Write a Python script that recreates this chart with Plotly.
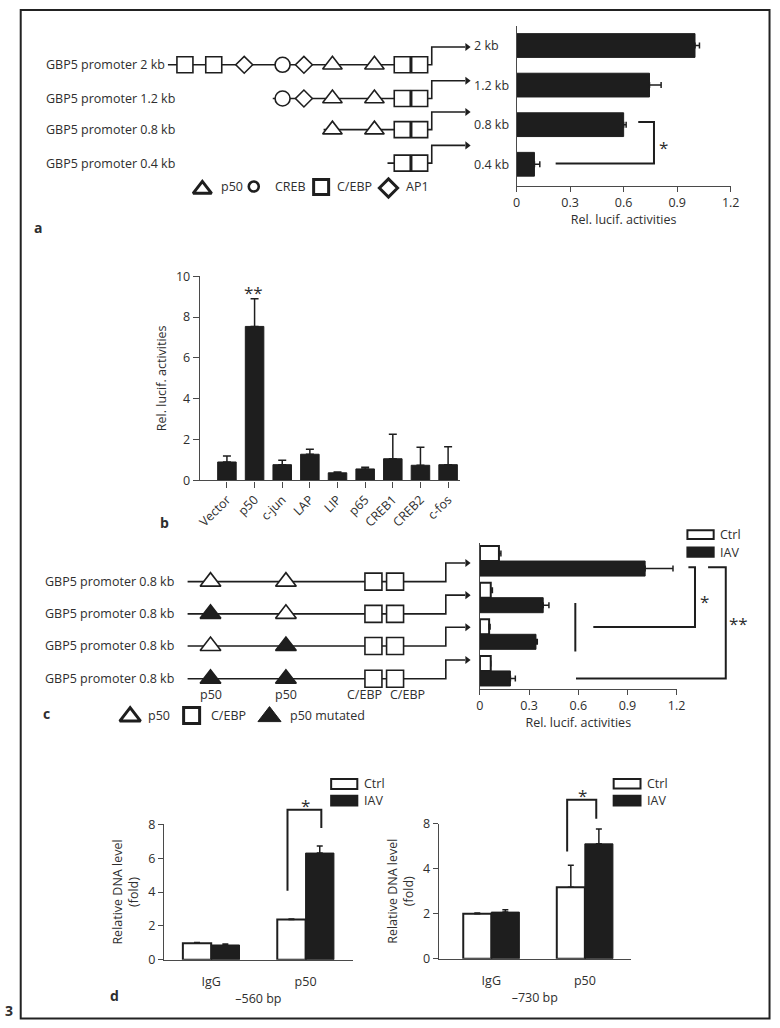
import plotly.graph_objects as go

W, H = 780, 1028
FONT = "Open Sans, Noto Sans, DejaVu Sans, sans-serif"
FS = 12.5
TXT = "#2e2e2e"
INK = "#1e1e1e"
AXC = "#4a4a4a"

# ---------------- data ----------------
# panel a: deletion constructs
a_constructs = ["2 kb", "1.2 kb", "0.8 kb", "0.4 kb"]
a_rel_lucif = [1.00, 0.745, 0.60, 0.10]
a_rel_lucif_err = [0.025, 0.065, 0.014, 0.03]
a_promoter_labels = ["GBP5 promoter 2 kb", "GBP5 promoter 1.2 kb",
                     "GBP5 promoter 0.8 kb", "GBP5 promoter 0.4 kb"]
a_site_types = ["C/EBP", "C/EBP", "AP1", "CREB", "AP1", "p50", "p50", "C/EBP", "C/EBP"]

# panel b: transcription factors
b_factors = ["Vector", "p50", "c-jun", "LAP", "LIP", "p65", "CREB1", "CREB2", "c-fos"]
b_rel_lucif = [0.90, 7.54, 0.77, 1.28, 0.37, 0.56, 1.06, 0.74, 0.77]
b_rel_lucif_err = [0.30, 1.36, 0.21, 0.24, 0.04, 0.08, 1.20, 0.88, 0.88]

# panel c: p50 site mutants
c_constructs = ["wt/wt", "mut/wt", "wt/mut", "mut/mut"]
c_site1_mutated = [False, True, False, True]
c_site2_mutated = [False, False, True, True]
c_ctrl = [0.116, 0.066, 0.056, 0.066]
c_ctrl_err = [0.012, 0.010, 0.006, 0.0]
c_iav = [1.008, 0.386, 0.342, 0.186]
c_iav_err = [0.17, 0.035, 0.008, 0.03]

# panel d: ChIP
d_groups = ["IgG", "p50"]
d560_ctrl = [0.97, 2.37]
d560_ctrl_err = [0.05, 0.04]
d560_iav = [0.87, 6.30]
d560_iav_err = [0.06, 0.42]
d730_ctrl = [2.00, 3.17]
d730_ctrl_err = [0.03, 0.98]
d730_iav = [2.07, 5.10]
d730_iav_err = [0.10, 0.66]
d730_tickvals = [0, 2, 4, 6]
d730_ticktext = ["0", "2", "4", "8"]

# ---------------- schematic layout (pixels) ----------------
A_ROW_Y = [56.7, 91.0, 122.7, 156.7]
A_LINE_START = [166.7, 273.3, 325.0, 390.0]
A_SITE_X = [184.0, 213.3, 244.3, 283.3, 305.0, 334.0, 376.7, 405.0, 422.7]
A_TSS, A_TIP, A_RISE = 435.0, 471.0, 18.0

C_ROW_Y = [582.3, 615.0, 647.7, 681.0]
C_LINE_START = 186.7
C_P50_X = [210.0, 286.7]
C_CEBP_X = [375.7, 397.7]
C_TSS, C_TIP, C_RISE = 449.3, 471.0, 19.0


def px(x):
    return x / W


def py(y):
    return 1 - y / H


fig = go.Figure()
SX, SY = "x6", "y6"

SYM = {"p50": "triangle-up", "CREB": "circle", "C/EBP": "square", "AP1": "diamond"}
SIZE = {"p50": 17, "CREB": 15, "C/EBP": 16, "AP1": 13}


def sline(xs, ys, width=1.6):
    fig.add_trace(go.Scatter(x=xs, y=ys, mode="lines", line=dict(color=INK, width=width),
                             xaxis=SX, yaxis=SY, hoverinfo="skip", showlegend=False))


def smark(xs, ys, symbol, size, fill="white", lw=1.6):
    fig.add_trace(go.Scatter(x=xs, y=ys, mode="markers",
                             marker=dict(symbol=symbol, size=size, color=fill,
                                         line=dict(color=INK, width=lw)),
                             xaxis=SX, yaxis=SY, hoverinfo="skip", showlegend=False))


# ---- panel a schematic ----
bx, by = [], []
for i in range(len(a_constructs)):
    y = A_ROW_Y[i]
    bx += [A_LINE_START[i], A_TSS, A_TSS, A_TIP - 2, None]
    by += [y, y, y - A_RISE, y - A_RISE, None]
sline(bx, by)
fig.add_trace(go.Scatter(x=[A_TIP] * 4, y=[y - A_RISE for y in A_ROW_Y], mode="markers",
                         marker=dict(symbol="triangle-right", size=7, color=INK),
                         xaxis=SX, yaxis=SY, hoverinfo="skip", showlegend=False))
for kind in SYM:
    xs, ys = [], []
    for i in range(len(a_constructs)):
        for sx, st in zip(A_SITE_X, a_site_types):
            if st == kind and sx > A_LINE_START[i]:
                xs.append(sx)
                ys.append(A_ROW_Y[i])
    smark(xs, ys, SYM[kind], SIZE[kind])

# legend of panel a
smark([201.7], [183.4], "triangle-up", 16, lw=3)
smark([254.0], [180.5], "circle", 10, lw=2.6)
smark([322.5], [181.0], "square", 15, lw=3)
smark([391.0], [182.0], "diamond", 14, lw=3)

# ---- panel c schematic ----
bx, by = [], []
for y in C_ROW_Y:
    bx += [C_LINE_START, C_TSS, C_TSS, C_TIP - 2, None]
    by += [y, y, y - C_RISE, y - C_RISE, None]
sline(bx, by)
fig.add_trace(go.Scatter(x=[C_TIP] * 4, y=[y - C_RISE for y in C_ROW_Y], mode="markers",
                         marker=dict(symbol="triangle-right", size=7, color=INK),
                         xaxis=SX, yaxis=SY, hoverinfo="skip", showlegend=False))
open_x, open_y, fill_x, fill_y = [], [], [], []
for i, y in enumerate(C_ROW_Y):
    for sx, mut in zip(C_P50_X, [c_site1_mutated[i], c_site2_mutated[i]]):
        if mut:
            fill_x.append(sx); fill_y.append(y)
        else:
            open_x.append(sx); open_y.append(y)
smark(open_x, open_y, "triangle-up", 18)
smark(fill_x, fill_y, "triangle-up", 18, fill=INK)
smark([x for y in C_ROW_Y for x in C_CEBP_X], [y for y in C_ROW_Y for x in C_CEBP_X], "square", 17)

# legend of panel c
smark([128.3], [719.5], "triangle-up", 18, lw=3)
smark([190.8], [718.3], "square", 16, lw=3)
smark([270.0], [719.5], "triangle-up", 20, fill=INK, lw=1)

# ---------------- bar charts ----------------
def err(arr, w=3):
    return dict(type="data", array=arr, arrayminus=[0] * len(arr), symmetric=False,
                color=INK, thickness=1.5, width=w)


# panel a
fig.add_trace(go.Bar(x=a_rel_lucif, y=a_constructs, orientation="h", width=0.6,
                     marker=dict(color=INK, line=dict(color=INK, width=1)),
                     error_x=err(a_rel_lucif_err), xaxis="x", yaxis="y", showlegend=False))
# panel b
fig.add_trace(go.Bar(x=b_factors, y=b_rel_lucif, width=0.67,
                     marker=dict(color=INK, line=dict(color=INK, width=1)),
                     error_y=err(b_rel_lucif_err, 4), xaxis="x2", yaxis="y2", showlegend=False))
# panel c
fig.add_trace(go.Bar(x=c_ctrl, y=c_constructs, orientation="h", width=0.41, offset=-0.41,
                     marker=dict(color="white", line=dict(color=INK, width=2)),
                     error_x=err(c_ctrl_err), xaxis="x3", yaxis="y3", showlegend=False))
fig.add_trace(go.Bar(x=c_iav, y=c_constructs, orientation="h", width=0.41, offset=0,
                     marker=dict(color=INK, line=dict(color=INK, width=1)),
                     error_x=err(c_iav_err), xaxis="x3", yaxis="y3", showlegend=False))
# panel d
for xa, ya, ctrl, ctrl_e, iav, iav_e in [("x4", "y4", d560_ctrl, d560_ctrl_err, d560_iav, d560_iav_err),
                                        ("x5", "y5", d730_ctrl, d730_ctrl_err, d730_iav, d730_iav_err)]:
    fig.add_trace(go.Bar(x=d_groups, y=ctrl, width=0.3, offset=-0.3,
                         marker=dict(color="white", line=dict(color=INK, width=2)),
                         error_y=err(ctrl_e), xaxis=xa, yaxis=ya, showlegend=False))
    fig.add_trace(go.Bar(x=d_groups, y=iav, width=0.3, offset=0,
                         marker=dict(color=INK, line=dict(color=INK, width=1)),
                         error_y=err(iav_e), xaxis=xa, yaxis=ya, showlegend=False))

# ---------------- axes ----------------
base = dict(showline=True, linecolor=AXC, linewidth=1.4, ticks="outside", tickcolor=AXC,
            ticklen=5, tickwidth=1.4, showgrid=False, zeroline=False, fixedrange=True,
            tickfont=dict(size=FS, color=TXT, family=FONT))
tf = dict(size=FS, color=TXT, family=FONT)
lucif_ticks = dict(tickvals=[0, 0.3, 0.6, 0.9, 1.2], ticktext=["0", "0.3", "0.6", "0.9", "1.2"])

fig.update_layout(
    xaxis=dict(base, domain=[px(521.3), px(739)], range=[0, 1.2], anchor="y", **lucif_ticks,
               title=dict(text="Rel. lucif. activities", font=tf, standoff=3)),
    yaxis=dict(base, domain=[py(180), py(17)], type="category", categoryorder="array",
               categoryarray=a_constructs, range=[3.55, -0.5], anchor="x",
               ticks="", showticklabels=False),
    xaxis2=dict(base, domain=[px(199.3), px(464)], type="category", range=[-0.975, 8.44],
                anchor="y2", tickangle=-45, ticklen=6),
    yaxis2=dict(base, domain=[py(479.3), py(271.7)], range=[0, 10], tickvals=[0, 2, 4, 6, 8, 10],
                anchor="x2", ticklen=6,
                title=dict(text="Rel. lucif. activities", font=tf, standoff=6)),
    xaxis3=dict(base, domain=[px(484), px(684)], range=[0, 1.2], anchor="y3", **lucif_ticks,
                title=dict(text="Rel. lucif. activities", font=tf, standoff=3)),
    yaxis3=dict(base, domain=[py(691.7), py(542.7)], type="category", categoryorder="array",
                categoryarray=c_constructs, range=[3.5, -0.5], anchor="x3",
                ticks="", showticklabels=False),
    xaxis4=dict(base, domain=[px(162.7), px(354.7)], type="category", range=[-0.5, 1.5],
                anchor="y4", ticks="", ticklabelstandoff=10,
                title=dict(text="\u2013560 bp", font=tf, standoff=5)),
    yaxis4=dict(base, domain=[py(966.7), py(829)], range=[0, 8], tickvals=[0, 2, 4, 6, 8],
                anchor="x4",
                title=dict(text="Relative DNA level<br>(fold)", font=tf, standoff=6)),
    xaxis5=dict(base, domain=[px(442.3), px(637.3)], type="category", range=[-0.56, 1.49],
                anchor="y5", ticks="", ticklabelstandoff=10,
                title=dict(text="\u2013730 bp", font=tf, standoff=5)),
    yaxis5=dict(base, domain=[py(965.7), py(828.3)], range=[0, 6], tickvals=d730_tickvals,
                ticktext=d730_ticktext, anchor="x5",
                title=dict(text="Relative DNA level<br>(fold)", font=tf, standoff=6)),
    xaxis6=dict(domain=[0, 1], range=[0, W], visible=False, anchor="y6", fixedrange=True),
    yaxis6=dict(domain=[0, 1], range=[H, 0], visible=False, anchor="x6", fixedrange=True),
)

# ---------------- decorations ----------------
shapes = []


def poly(pts, width=2):
    path = "M " + " L ".join(f"{px(x)},{py(y)}" for x, y in pts)
    shapes.append(dict(type="path", path=path, xref="paper", yref="paper",
                       line=dict(color=INK, width=width)))


def box(x0, y0, x1, y1, fill):
    shapes.append(dict(type="rect", xref="paper", yref="paper", x0=px(x0), x1=px(x1),
                       y0=py(y1), y1=py(y0), fillcolor=fill, line=dict(color=INK, width=2)))


# figure frame
shapes.append(dict(type="rect", xref="paper", yref="paper", x0=px(17), x1=px(778.5),
                   y0=py(1026.5), y1=py(1), line=dict(color="#222", width=2)))

# significance brackets
poly([(645, 115), (661, 115), (661, 157), (561, 157)])
poly([(696, 567.7), (702.7, 567.7), (702.7, 628.3), (599.3, 628.3)])
poly([(581, 604), (581, 653.3)])
poly([(716, 567.7), (734, 567.7), (734, 680.7), (581.7, 680.7)])
poly([(288.3, 896.7), (288.3, 814.3), (322.7, 814.3), (322.7, 832.7)])
poly([(572.7, 856.7), (572.7, 804), (602.3, 804), (602.3, 823.3)])

# Ctrl / IAV legend boxes
box(695, 530, 721.7, 539, "white")
box(695, 547.5, 721.7, 557, INK)
box(332.7, 783, 359.3, 793, "white")
box(332.7, 800, 359.3, 810, INK)
box(620, 783, 647.3, 792.5, "white")
box(620, 800, 647.3, 810, INK)

ann = []


def txt(x, y, s, size=FS, xanchor="left", bold=False, color=TXT):
    ann.append(dict(xref="paper", yref="paper", x=px(x), y=py(y), text=f"<b>{s}</b>" if bold else s,
                    showarrow=False, xanchor=xanchor, yanchor="middle",
                    font=dict(size=size, color=color, family=FONT)))


# panel a labels
for lab, y in zip(a_promoter_labels, A_ROW_Y):
    txt(40.5, y, lab)
for lab in a_constructs:
    ann.append(dict(xref="paper", yref="y", x=px(476), y=lab, text=lab, showarrow=False,
                    xanchor="left", yanchor="middle", font=dict(size=FS, color=TXT, family=FONT)))
txt(218.5, 180.5, "p50")
txt(273.5, 180.5, "CREB")
txt(336.5, 180.5, "C/EBP")
txt(406.5, 180.5, "AP1")
txt(671, 141, "*", size=17, xanchor="center")
txt(35, 221.7, "a", size=14, xanchor="center", bold=True)

# panel b
txt(254, 288, "**", size=17, xanchor="center")
txt(163, 522, "b", size=14, xanchor="center", bold=True)

# panel c
for y in C_ROW_Y:
    txt(39.5, y, "GBP5 promoter 0.8 kb")
for x, lab in [(210, "p50"), (286.7, "p50"), (366.7, "C/EBP"), (410, "C/EBP")]:
    txt(x, 696.7, lab, xanchor="center")
txt(144, 718, "p50")
txt(208, 718, "C/EBP")
txt(289, 718, "p50 mutated")
txt(43.3, 716.7, "c", size=14, xanchor="center", bold=True)
txt(726, 534, "Ctrl")
txt(726, 552.3, "IAV")
txt(712.3, 602, "*", size=17, xanchor="center")
txt(747, 625, "**", size=17, xanchor="center")

# panel d
txt(364, 788, "Ctrl")
txt(364, 805, "IAV")
txt(652, 788, "Ctrl")
txt(652, 805, "IAV")
txt(306.5, 810, "*", size=17, xanchor="center")
txt(588.3, 800, "*", size=17, xanchor="center")
txt(112.3, 1002.7, "d", size=14, xanchor="center", bold=True)
txt(5, 1018, "3", size=14, xanchor="center", bold=True)

fig.update_layout(
    width=W, height=H, autosize=False,
    margin=dict(l=0, r=0, t=0, b=0),
    paper_bgcolor="white", plot_bgcolor="rgba(0,0,0,0)",
    barmode="overlay", showlegend=False,
    font=dict(family=FONT, color=TXT, size=FS),
    shapes=shapes, annotations=ann,
)

fig.write_html(
    "out.html",
    config={"displayModeBar": False},
    post_script=(
        "document.documentElement.style.margin='0';"
        "document.body.style.margin='0';document.body.style.padding='0';"
        "document.body.style.overflow='hidden';"
        "var gd=document.getElementById('{plot_id}');"
        "gd.style.position='fixed';gd.style.left='0px';gd.style.top='0px';"
    ),
)
